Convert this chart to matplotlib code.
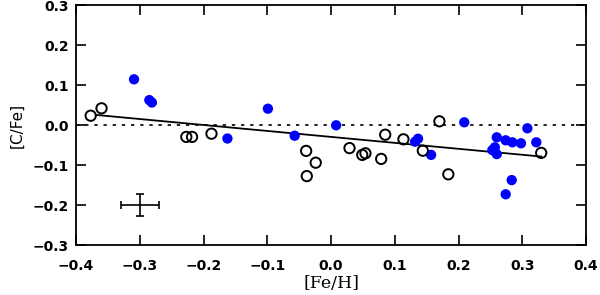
import numpy as np
import matplotlib.pyplot as plt

# filled (blue) stars
feh_blue = [-0.309, -0.285, -0.281, -0.1625, -0.099, -0.057, 0.008, 0.132, 0.1365,
            0.157, 0.209, 0.253, 0.257, 0.260, 0.260, 0.274, 0.274, 0.2834,
            0.2845, 0.298, 0.308, 0.322]
cfe_blue = [0.115, 0.063, 0.057, -0.033, 0.0415, -0.026, 0.0, -0.041, -0.0335,
            -0.074, 0.0075, -0.062, -0.055, -0.072, -0.030, -0.0375, -0.1725, -0.137,
            -0.0425, -0.045, -0.0075, -0.0425]

# open (black) stars
feh_open = [-0.377, -0.360, -0.227, -0.218, -0.1875, -0.039, -0.024, -0.038, 0.029,
            0.049, 0.054, 0.0787, 0.085, 0.1136, 0.144, 0.170, 0.184, 0.3297]
cfe_open = [0.024, 0.0425, -0.029, -0.029, -0.021, -0.064, -0.0935, -0.127, -0.057,
            -0.074, -0.070, -0.084, -0.0235, -0.035, -0.0635, 0.010, -0.1225, -0.069]

# linear fit shown in the figure
fit_slope = -0.149
fit_icpt = -0.029
fit_range = [-0.369, 0.33]

# typical error bar
err_pos = (-0.30, -0.20)
err_x = 0.03
err_y = 0.028

plt.rcParams['font.family'] = ['DejaVu Sans']


def fmt(v, p):
    if abs(v) < 1e-9:
        return '0.0'
    return f'{v:.1f}'.replace('-', '\u2212')


fig = plt.figure(figsize=(6.0, 2.95), dpi=100)
ax = fig.add_axes([0.1267, 0.1685, 0.85, 0.8135])

ax.axhline(0.0, color='black', linestyle=(0, (2, 3.5)), linewidth=1.2, zorder=1)

xf = np.array(fit_range)
ax.plot(xf, fit_icpt + fit_slope * xf, color='black', linewidth=1.3, zorder=2)

ax.scatter(feh_blue, cfe_blue, s=55, color='#0000ff', edgecolors='none', zorder=3)
ax.scatter(feh_open, cfe_open, s=55, facecolors='none', edgecolors='black',
           linewidths=1.4, zorder=4)

ax.errorbar([err_pos[0]], [err_pos[1]], xerr=err_x, yerr=err_y, fmt='none',
            ecolor='black', elinewidth=1.2, capsize=3, capthick=1.2)

ax.set_xlim(-0.4, 0.4)
ax.set_ylim(-0.3, 0.3)
ax.set_xticks(np.arange(-0.4, 0.41, 0.1))
ax.set_yticks(np.arange(-0.3, 0.31, 0.1))
ax.xaxis.set_major_formatter(plt.FuncFormatter(fmt))
ax.yaxis.set_major_formatter(plt.FuncFormatter(fmt))
ax.tick_params(direction='in', top=True, right=True, length=7, width=1.2,
               labelsize=10, pad=5)
ax.tick_params(axis='x', pad=10)
for lab in ax.get_xticklabels() + ax.get_yticklabels():
    lab.set_fontweight('bold')
for s in ax.spines.values():
    s.set_linewidth(1.3)

ax.set_xlabel('[Fe/H]', fontsize=12.5, family='DejaVu Serif', labelpad=1)
ax.set_ylabel('[C/Fe]', fontsize=11, labelpad=6)

fig.savefig('out.png', dpi=100)
